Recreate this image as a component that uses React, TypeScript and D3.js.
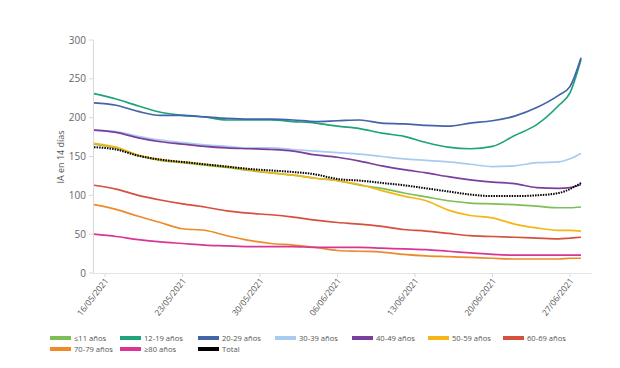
import React, { useEffect, useRef } from "react";
import * as d3 from "d3";

const DATES = [
  "2021-05-15", "2021-05-17", "2021-05-19", "2021-05-21", "2021-05-23", "2021-05-25",
  "2021-05-27", "2021-05-29", "2021-05-31", "2021-06-02", "2021-06-04", "2021-06-06",
  "2021-06-08", "2021-06-10", "2021-06-12", "2021-06-14", "2021-06-16", "2021-06-18",
  "2021-06-20", "2021-06-22", "2021-06-24", "2021-06-26", "2021-06-27", "2021-06-28",
];
const TICK_DATES = ["2021-05-16", "2021-05-23", "2021-05-30", "2021-06-06", "2021-06-13", "2021-06-20", "2021-06-27"];
const Y_TICKS = [0, 50, 100, 150, 200, 250, 300];

const LE11 = [166, 161, 151, 145, 142, 139, 136, 132, 129, 126, 122, 119, 113, 109, 103, 98, 93, 90, 89, 88, 86, 84, 84, 85];
const A12_19 = [231, 224, 215, 207, 203, 201, 197, 197, 197, 195, 193, 189, 186, 180, 176, 168, 162, 160, 163, 177, 191, 216, 232, 275];
const A20_29 = [219, 216, 208, 203, 203, 201, 199, 198, 198, 197, 195, 196, 197, 193, 192, 190, 189, 193, 196, 202, 213, 229, 240, 277];
const A30_39 = [184, 182, 176, 171, 168, 165, 163, 161, 161, 159, 157, 155, 153, 150, 147, 145, 143, 140, 137, 138, 142, 143, 147, 154];
const A40_49 = [184, 181, 174, 169, 166, 163, 161, 160, 159, 157, 152, 149, 144, 138, 133, 129, 124, 120, 117, 115, 110, 109, 110, 114];
const A50_59 = [167, 162, 152, 146, 143, 140, 137, 133, 129, 126, 122, 119, 114, 106, 99, 93, 81, 74, 71, 63, 58, 55, 55, 54];
const A60_69 = [113, 108, 100, 94, 89, 85, 80, 77, 75, 72, 68, 65, 63, 60, 56, 54, 51, 48, 47, 46, 45, 44, 45, 46];
const A70_79 = [88, 82, 73, 65, 57, 55, 48, 42, 38, 36, 33, 29, 28, 27, 24, 22, 21, 20, 19, 18, 18, 18, 19, 19];
const GE80 = [50, 47, 43, 40, 38, 36, 35, 34, 34, 34, 33, 33, 33, 32, 31, 30, 28, 26, 24, 23, 23, 23, 23, 23];
const TOTAL = [162, 159, 151, 146, 143, 140, 137, 134, 132, 130, 127, 121, 119, 116, 113, 109, 105, 101, 99, 99, 100, 103, 108, 116];

const SERIES = [
  { name: "≤11 años", values: LE11, color: "#7dbf55" },
  { name: "12-19 años", values: A12_19, color: "#1fa37a" },
  { name: "20-29 años", values: A20_29, color: "#4264a8" },
  { name: "30-39 años", values: A30_39, color: "#a9cbf0" },
  { name: "40-49 años", values: A40_49, color: "#7a3f9d" },
  { name: "50-59 años", values: A50_59, color: "#f4b617" },
  { name: "60-69 años", values: A60_69, color: "#d4503f" },
  { name: "70-79 años", values: A70_79, color: "#ee8a2a" },
  { name: "≥80 años", values: GE80, color: "#db3497" },
  { name: "Total", values: TOTAL, color: "#000000" },
];

// legend column starts (row 1 / row 2)
const LEGEND_X = [50, 120, 198, 275, 352, 428, 503];

export default function App() {
  const ref = useRef<SVGSVGElement>(null);

  useEffect(() => {
    const svg = d3.select(ref.current);
    svg.selectAll("*").remove();

    const parse = d3.timeParse("%Y-%m-%d");
    const fmt = d3.timeFormat("%d/%m/%Y");
    const dates = DATES.map((d) => parse(d) as Date);

    const x = d3.scaleTime().domain([dates[0], dates[dates.length - 1]]).range([94, 581]);
    const y = d3.scaleLinear().domain([0, 300]).range([273, 40]);

    const font = "'Open Sans', sans-serif";
    const g = svg.append("g").attr("font-family", font);

    // y axis
    g.append("line").attr("x1", 93.5).attr("x2", 93.5).attr("y1", 40).attr("y2", 273).attr("stroke", "#d9d9d9");
    Y_TICKS.forEach((t) => {
      g.append("line").attr("x1", 89).attr("x2", 93.5).attr("y1", y(t)).attr("y2", y(t)).attr("stroke", "#d9d9d9");
      g.append("text").attr("x", 86).attr("y", y(t)).attr("dy", "0.35em").attr("text-anchor", "end")
        .attr("font-size", 10).attr("fill", "#666").text(t);
    });
    g.append("text").attr("transform", `translate(64,157) rotate(-90)`).attr("text-anchor", "middle")
      .attr("font-size", 9).attr("fill", "#555").text("IA en 14 días");

    // x axis
    g.append("line").attr("x1", 93).attr("x2", 592).attr("y1", 273.5).attr("y2", 273.5).attr("stroke", "#e3e3e3");
    TICK_DATES.forEach((s) => {
      const d = parse(s) as Date;
      const px = x(d);
      g.append("line").attr("x1", px).attr("x2", px).attr("y1", 273.5).attr("y2", 277).attr("stroke", "#d9d9d9");
      g.append("text").attr("transform", `translate(${px + 4},${281}) rotate(-52)`).attr("text-anchor", "end")
        .attr("font-size", 8.5).attr("fill", "#555").text(fmt(d));
    });

    // lines
    const line = d3.line<number>()
      .x((_, i) => x(dates[i]))
      .y((v) => y(v))
      .curve(d3.curveMonotoneX);

    SERIES.forEach((s) => {
      const p = g.append("path").attr("d", line(s.values) as string).attr("fill", "none")
        .attr("stroke", s.color).attr("stroke-width", s.name === "Total" ? 2 : 1.7);
      if (s.name === "Total") p.attr("stroke-dasharray", "1.5,1.1");
    });

    // legend
    SERIES.forEach((s, i) => {
      const row = i < 7 ? 0 : 1;
      const col = i < 7 ? i : i - 7;
      const lx = LEGEND_X[col];
      const ly = row === 0 ? 338 : 349;
      g.append("rect").attr("x", lx).attr("y", ly - 2).attr("width", 21).attr("height", 4).attr("fill", s.color);
      g.append("text").attr("x", lx + 24).attr("y", ly).attr("dy", "0.33em").attr("font-size", 7.6)
        .attr("fill", "#555").text(s.name);
    });
  }, []);

  return (
    <svg ref={ref} width={620} height={368}
      style={{ position: "absolute", left: 0, top: 0, background: "#fff" }} />
  );
}
